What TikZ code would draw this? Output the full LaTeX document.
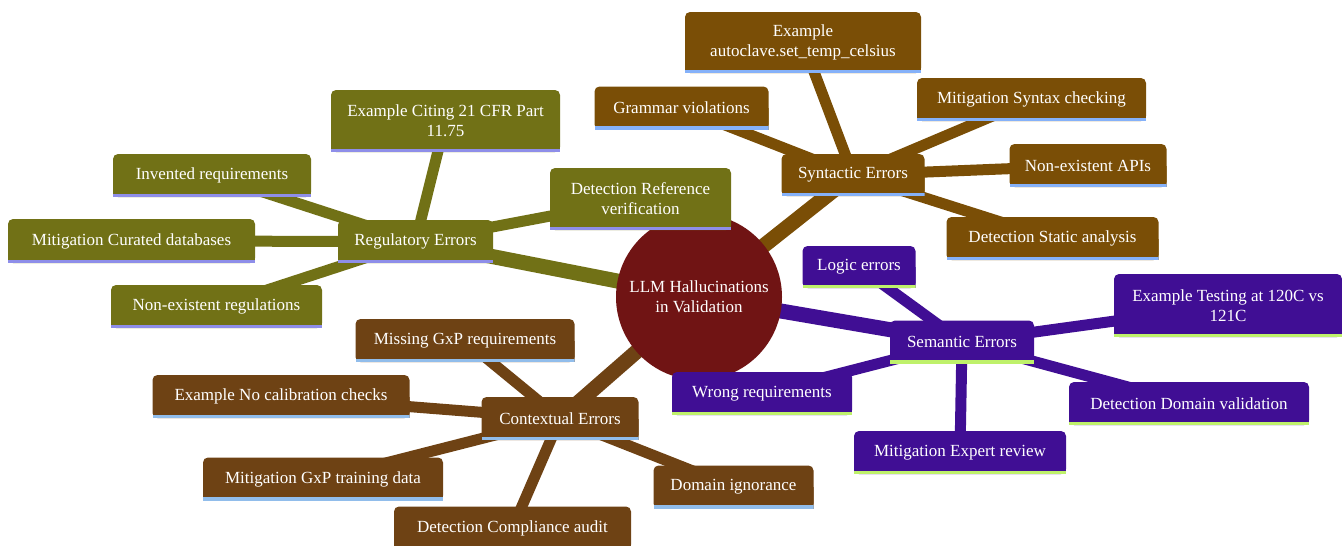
\documentclass[tikz,border=0pt]{standalone}
\usepackage{fontspec}
\setmainfont{Liberation Serif}
\usetikzlibrary{backgrounds}

\definecolor{rootc}{HTML}{701414}
\definecolor{regc}{HTML}{717116}
\definecolor{regl}{HTML}{8E8EE9}
\definecolor{sync}{HTML}{7A4E06}
\definecolor{synl}{HTML}{85B1F9}
\definecolor{semc}{HTML}{400E94}
\definecolor{seml}{HTML}{BFF16B}
\definecolor{ctxc}{HTML}{6E4214}
\definecolor{ctxl}{HTML}{91BDEB}

\tikzset{
  boxfill/.store in=\mmfill,
  boxline/.store in=\mmline,
  mm/.style={inner sep=0pt, text=white, align=center,
    font=\fontsize{17}{20}\selectfont,
    path picture={
      \fill[\mmfill, rounded corners=5pt] (path picture bounding box.south west)
        rectangle (path picture bounding box.north east);
      \fill[\mmfill] (path picture bounding box.south west)
        rectangle (path picture bounding box.east);
      \fill[\mmline] (path picture bounding box.south west)
        rectangle ([yshift=3.5pt]path picture bounding box.south east);
    }},
  regbox/.style={mm, boxfill=regc, boxline=regl},
  synbox/.style={mm, boxfill=sync, boxline=synl},
  sembox/.style={mm, boxfill=semc, boxline=seml},
  ctxbox/.style={mm, boxfill=ctxc, boxline=ctxl},
  sz/.style 2 args={minimum width=#1, minimum height=#2},
  trunk/.style={line width=15pt, draw=#1},
  twig/.style={line width=11pt, draw=#1},
}

\begin{document}
\begin{tikzpicture}[x=1pt, y=-1pt]
\useasboundingbox (0,0) rectangle (1342,546);

% central topic
\node[circle, fill=rootc, minimum size=166, inner sep=0pt, text=white,
  align=center, font=\fontsize{17}{20}\selectfont] (root) at (699,297)
  {LLM Hallucinations\\in Validation};

% regulatory branch
\node[regbox, sz={155}{43}] (reg) at (415.5,241.5) {Regulatory Errors};
\node[regbox, sz={229}{62}] (regEx) at (445.5,121) {Example Citing 21 CFR Part\\11.75};
\node[regbox, sz={198}{43}] (regInv) at (212,175.5) {Invented requirements};
\node[regbox, sz={181}{62}] (regDet) at (640.5,199) {Detection Reference\\verification};
\node[regbox, sz={247}{44}] (regMit) at (131.5,241) {Mitigation Curated databases};
\node[regbox, sz={211}{43}] (regNon) at (216.5,306.5) {Non-existent regulations};

% syntactic branch
\node[synbox, sz={143}{42}] (syn) at (853,175) {Syntactic Errors};
\node[synbox, sz={236}{61}] (synEx) at (803,42.5) {Example\\autoclave.set\_temp\_celsius};
\node[synbox, sz={174}{43}] (synGr) at (681.5,108) {Grammar violations};
\node[synbox, sz={229}{43}] (synMit) at (1031.5,99.5) {Mitigation Syntax checking};
\node[synbox, sz={157}{43}] (synApi) at (1088,165.5) {Non-existent APIs};
\node[synbox, sz={212}{43}] (synDet) at (1052.5,238.5) {Detection Static analysis};

% semantic branch
\node[sembox, sz={144}{43}] (sem) at (962,342) {Semantic Errors};
\node[sembox, sz={113}{42}] (semLog) at (859,267) {Logic errors};
\node[sembox, sz={228}{63}] (semEx) at (1228,305.5) {Example Testing at 120C vs\\121C};
\node[sembox, sz={180}{43}] (semWr) at (762,393.5) {Wrong requirements};
\node[sembox, sz={240}{43}] (semDet) at (1189,403.5) {Detection Domain validation};
\node[sembox, sz={212}{43}] (semMit) at (960,452.5) {Mitigation Expert review};

% contextual branch
\node[ctxbox, sz={157}{43}] (ctx) at (560,418.5) {Contextual Errors};
\node[ctxbox, sz={219}{43}] (ctxMis) at (465,340.5) {Missing GxP requirements};
\node[ctxbox, sz={257}{43}] (ctxEx) at (281,396.5) {Example No calibration checks};
\node[ctxbox, sz={240}{43}] (ctxMit) at (323,479) {Mitigation GxP training data};
\node[ctxbox, sz={160}{43}] (ctxDom) at (733.5,487) {Domain ignorance};
\node[ctxbox, sz={237}{43}] (ctxDet) at (512.5,528) {Detection Compliance audit};

% connectors, centre to centre, behind the boxes
\begin{scope}[on background layer]
  \draw[trunk=regc] (root.center) -- (reg.center);
  \draw[trunk=sync] (root.center) -- (syn.center);
  \draw[trunk=semc] (root.center) -- (sem.center);
  \draw[trunk=ctxc] (root.center) -- (ctx.center);

  \foreach \n in {regEx,regInv,regDet,regMit,regNon}
    \draw[twig=regc] (reg.center) -- (\n.center);
  \foreach \n in {synEx,synGr,synMit,synApi,synDet}
    \draw[twig=sync] (syn.center) -- (\n.center);
  \foreach \n in {semLog,semEx,semWr,semDet,semMit}
    \draw[twig=semc] (sem.center) -- (\n.center);
  \foreach \n in {ctxMis,ctxEx,ctxMit,ctxDom,ctxDet}
    \draw[twig=ctxc] (ctx.center) -- (\n.center);
\end{scope}
\end{tikzpicture}
\end{document}
